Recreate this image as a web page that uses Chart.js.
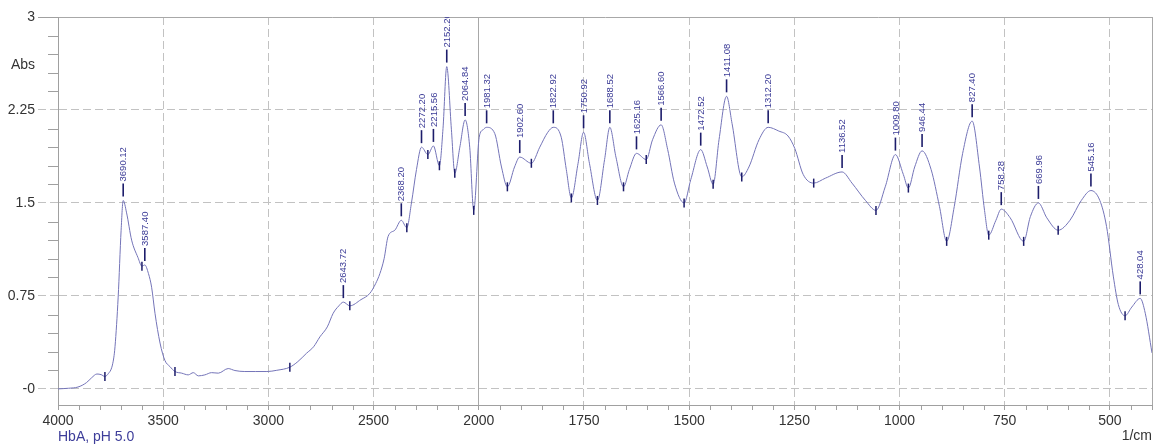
<!DOCTYPE html>
<html>
<head>
<meta charset="utf-8">
<script src="https://cdn.jsdelivr.net/npm/chart.js@4.4.1/dist/chart.umd.min.js"></script>
<style>
  html, body { margin: 0; padding: 0; background: #fff; }
  #wrap { width: 1155px; height: 446px; }
</style>
</head>
<body>
<div id="wrap"><canvas id="spectrum" width="1155" height="446"></canvas></div>
<script>
// spectrum trace: wavenumber (1/cm) and absorbance
const wavenumbers = [
  4000, 3950, 3905, 3865, 3840, 3815, 3795, 3777, 3760, 3745, 3735, 3729, 3714, 3700, 3690.12,
  3674, 3650, 3620, 3601, 3587.4, 3570, 3555, 3539, 3515, 3492, 3468, 3444, 3412, 3381, 3357,
  3333, 3302, 3270, 3238, 3191, 3159, 3112, 3060, 3007, 2960, 2898, 2860, 2819, 2785, 2755,
  2720, 2692, 2665, 2643.72, 2613, 2560, 2518, 2490, 2470, 2450, 2431, 2399, 2368.2, 2342, 2320,
  2296, 2272.2, 2242, 2215.56, 2187, 2170, 2152.2, 2130, 2114, 2090, 2064.84, 2043, 2024, 1999, 1990,
  1981.32, 1962, 1946, 1932, 1915, 1902.6, 1875, 1855, 1836, 1822.92, 1804, 1792, 1780, 1764, 1750.92,
  1737, 1718, 1701, 1688.52, 1674, 1656, 1642, 1625.16, 1602, 1587, 1566.6, 1551, 1535, 1512, 1496,
  1472.52, 1457, 1443, 1429, 1411.08, 1398, 1375, 1358, 1334, 1312.2, 1287, 1265, 1249, 1229, 1204,
  1176, 1136.52, 1113, 1081, 1056, 1034, 1009.8, 991, 979, 964, 946.44, 925, 905, 888, 870,
  850, 827.4, 810, 798, 788, 771, 758.28, 737, 705, 689, 669.96, 650, 623, 595, 568,
  545.16, 524, 508, 492, 480, 464, 448, 428.04, 416, 400
];
const absorbance = [
  0.00, 0.005, 0.015, 0.05, 0.09, 0.12, 0.115, 0.10, 0.125, 0.17, 0.25, 0.34, 0.74, 1.28, 1.52,
  1.42, 1.20, 1.06, 0.99, 1.00, 0.93, 0.82, 0.61, 0.37, 0.23, 0.18, 0.14, 0.127, 0.113, 0.131,
  0.105, 0.113, 0.131, 0.127, 0.164, 0.148, 0.140, 0.14, 0.14, 0.15, 0.175, 0.22, 0.287, 0.34, 0.42,
  0.50, 0.61, 0.67, 0.70, 0.67, 0.72, 0.77, 0.85, 0.93, 1.05, 1.23, 1.28, 1.36, 1.30, 1.50,
  1.77, 1.95, 1.89, 1.96, 1.80, 2.10, 2.60, 2.09, 1.74, 1.95, 2.17, 1.95, 1.44, 2.03, 2.09,
  2.11, 2.06, 1.79, 1.63, 1.79, 1.87, 1.82, 1.95, 2.07, 2.11, 2.03, 1.77, 1.54, 1.82, 2.07,
  1.82, 1.52, 1.85, 2.11, 1.87, 1.63, 1.77, 1.90, 1.85, 2.01, 2.13, 1.93, 1.66, 1.50, 1.69,
  1.93, 1.79, 1.65, 2.01, 2.36, 2.14, 1.71, 1.79, 2.01, 2.11, 2.08, 2.04, 1.94, 1.73, 1.66,
  1.70, 1.75, 1.66, 1.52, 1.44, 1.63, 1.89, 1.73, 1.62, 1.79, 1.92, 1.77, 1.47, 1.19, 1.47,
  1.90, 2.16, 1.79, 1.44, 1.24, 1.36, 1.45, 1.38, 1.19, 1.39, 1.50, 1.38, 1.28, 1.36, 1.52,
  1.60, 1.52, 1.31, 0.91, 0.68, 0.59, 0.66, 0.73, 0.61, 0.29
];

// picked peaks (labelled) and valleys (small markers)
const peakPositions = [
  3690.12, 3587.40, 2643.72, 2368.20, 2272.20, 2215.56, 2152.20, 2064.84, 1981.32, 1902.60,
  1822.92, 1750.92, 1688.52, 1625.16, 1566.60, 1472.52, 1411.08, 1312.20, 1136.52, 1009.80,
  946.44, 827.40, 758.28, 669.96, 545.16, 428.04
];
const valleyPositions = [
  3777, 3601, 3444, 2898, 2613, 2342, 2242, 2187, 2114, 2024, 1932, 1875, 1780, 1718,
  1656, 1602, 1512, 1443, 1375, 1204, 1056, 979, 888, 788, 705, 623, 464
];

// axis ticks
const xTickValues = [4000, 3500, 3000, 2500, 2000, 1750, 1500, 1250, 1000, 750, 500, 400];
const yTickValues = [0, 0.75, 1.5, 2.25, 3];

const WN_MAX = 4000, WN_BREAK = 2000, WN_MIN = 400;
const solidX = [4000, 2000, 400];
const FONT = "'Liberation Sans', Arial, sans-serif";

// wavenumber axis: above 2000 the scale is compressed by half, like the instrument plot
class WavenumberScale extends Chart.LinearScale {
  static id = 'wavenumber';
  _unit(v) {
    return v >= WN_BREAK ? (WN_MAX - v) / 2 : (WN_MAX - WN_BREAK) / 2 + (WN_BREAK - v);
  }
  getPixelForValue(value) {
    if (value === null || value === undefined || isNaN(value)) return NaN;
    return this.getPixelForDecimal(this._unit(value) / this._unit(WN_MIN));
  }
  getValueForPixel(pixel) {
    const u = this.getDecimalForPixel(pixel) * this._unit(WN_MIN);
    const half = (WN_MAX - WN_BREAK) / 2;
    return u <= half ? WN_MAX - u * 2 : WN_BREAK - (u - half);
  }
}
Chart.register(WavenumberScale);

function absAt(wn) {
  for (let i = 0; i < wavenumbers.length - 1; i++) {
    const a = wavenumbers[i], b = wavenumbers[i + 1];
    if (wn <= a && wn >= b) {
      const t = (a - wn) / (a - b);
      return absorbance[i] + t * (absorbance[i + 1] - absorbance[i]);
    }
  }
  return 0;
}

const decorations = {
  id: 'decorations',
  afterDatasetsDraw(chart) {
    const { ctx, chartArea } = chart;
    const xs = chart.scales.x, ys = chart.scales.y;

    ctx.save();
    ctx.beginPath();
    ctx.rect(chartArea.left, chartArea.top, chartArea.right - chartArea.left, chartArea.bottom - chartArea.top);
    ctx.clip();

    // valley markers
    ctx.strokeStyle = '#1d1d6b';
    ctx.lineWidth = 1.5;
    valleyPositions.forEach(wn => {
      const x = xs.getPixelForValue(wn), y = ys.getPixelForValue(absAt(wn));
      ctx.beginPath();
      ctx.moveTo(x, y - 4.5);
      ctx.lineTo(x, y + 4.5);
      ctx.stroke();
    });

    // peak ticks + labels
    peakPositions.forEach(wn => {
      const x = xs.getPixelForValue(wn), y = ys.getPixelForValue(absAt(wn));
      ctx.strokeStyle = '#1d1d6b';
      ctx.lineWidth = 1.6;
      ctx.beginPath();
      ctx.moveTo(x, y - 4);
      ctx.lineTo(x, y - 17);
      ctx.stroke();
      ctx.save();
      ctx.translate(x, y - 19);
      ctx.rotate(-Math.PI / 2);
      ctx.fillStyle = '#3a3a96';
      ctx.font = '9.5px ' + FONT;
      ctx.textAlign = 'left';
      ctx.textBaseline = 'middle';
      ctx.fillText(wn.toFixed(2), 0, 0.5);
      ctx.restore();
    });
    ctx.restore();
  },
  afterDraw(chart) {
    const { ctx, chartArea } = chart;
    const xs = chart.scales.x, ys = chart.scales.y;
    ctx.save();
    ctx.strokeStyle = '#a0a0a0';
    ctx.lineWidth = 1;

    // minor y ticks every 0.15
    for (let i = 1; i < 20; i++) {
      if (i % 5 === 0) continue;
      const y = Math.round(ys.getPixelForValue(i * 0.15)) + 0.5;
      ctx.beginPath();
      ctx.moveTo(chartArea.left - 10, y);
      ctx.lineTo(chartArea.left, y);
      ctx.stroke();
    }
    // minor x ticks: every 100 above 2000, every 50 below
    const minor = [];
    for (let w = 3900; w > 2000; w -= 100) if (w % 500) minor.push(w);
    for (let w = 1950; w > 400; w -= 50) if (w % 250) minor.push(w);
    minor.forEach(w => {
      const x = Math.round(xs.getPixelForValue(w)) + 0.5;
      ctx.beginPath();
      ctx.moveTo(x, chartArea.bottom);
      ctx.lineTo(x, chartArea.bottom + 5);
      ctx.stroke();
    });

    ctx.font = '14px ' + FONT;
    ctx.textBaseline = 'middle';
    ctx.fillStyle = '#333';
    ctx.textAlign = 'right';
    ctx.fillText('Abs', 35, 65);
    ctx.fillText('1/cm', chartArea.right, 436);
    ctx.textAlign = 'left';
    ctx.fillStyle = '#3d3d9a';
    ctx.fillText('HbA, pH 5.0', chartArea.left, 437);
    ctx.restore();
  }
};

const spectrum = new Chart(document.getElementById('spectrum'), {
  type: 'line',
  data: {
    datasets: [{
      label: 'HbA, pH 5.0',
      data: wavenumbers.map((w, i) => ({ x: w, y: absorbance[i] })),
      borderColor: '#7474b8',
      borderWidth: 1,
      pointRadius: 0,
      cubicInterpolationMode: 'monotone',
      fill: false
    }]
  },
  options: {
    responsive: false,
    animation: false,
    devicePixelRatio: 1,
    events: [],
    layout: { padding: { top: 17, right: 2, left: 0, bottom: 0 } },
    plugins: { legend: { display: false }, tooltip: { enabled: false } },
    scales: {
      x: {
        type: 'wavenumber',
        min: WN_MIN,
        max: WN_MAX,
        afterBuildTicks: s => { s.ticks = xTickValues.map(v => ({ value: v })); },
        afterFit: s => { s.height = 41; },
        ticks: {
          autoSkip: false,
          maxRotation: 0,
          minRotation: 0,
          padding: 3,
          color: '#333',
          font: { family: FONT, size: 14 },
          callback: v => (v === WN_MIN ? '' : String(v))
        },
        grid: {
          color: c => (c.tick && solidX.includes(c.tick.value) ? '#a8a8a8' : '#c2c2c2'),
          tickColor: '#a0a0a0',
          tickLength: 5,
          lineWidth: 1
        },
        border: {
          display: true,
          color: '#a0a0a0',
          dash: c => (c.tick && solidX.includes(c.tick.value) ? [] : [8, 4])
        }
      },
      y: {
        type: 'linear',
        min: -0.13,
        max: 3,
        afterBuildTicks: s => { s.ticks = yTickValues.map(v => ({ value: v })); },
        afterFit: s => { s.width = 58; },
        ticks: {
          padding: 3,
          color: '#333',
          font: { family: FONT, size: 14 },
          callback: v => (v === 0 ? '-0' : String(v))
        },
        grid: {
          color: c => (c.tick && c.tick.value === 3 ? '#a8a8a8' : '#c2c2c2'),
          tickColor: c => (c.tick && c.tick.value === 3 ? '#a0a0a0' : '#c2c2c2'),
          tickLength: 20,
          tickBorderDash: c => (c.tick && c.tick.value === 3 ? [] : [8, 4]),
          lineWidth: 1
        },
        border: {
          display: true,
          color: '#a0a0a0',
          dash: c => (c.tick && c.tick.value === 3 ? [] : [8, 4])
        }
      }
    }
  },
  plugins: [decorations]
});
</script>
</body>
</html>
